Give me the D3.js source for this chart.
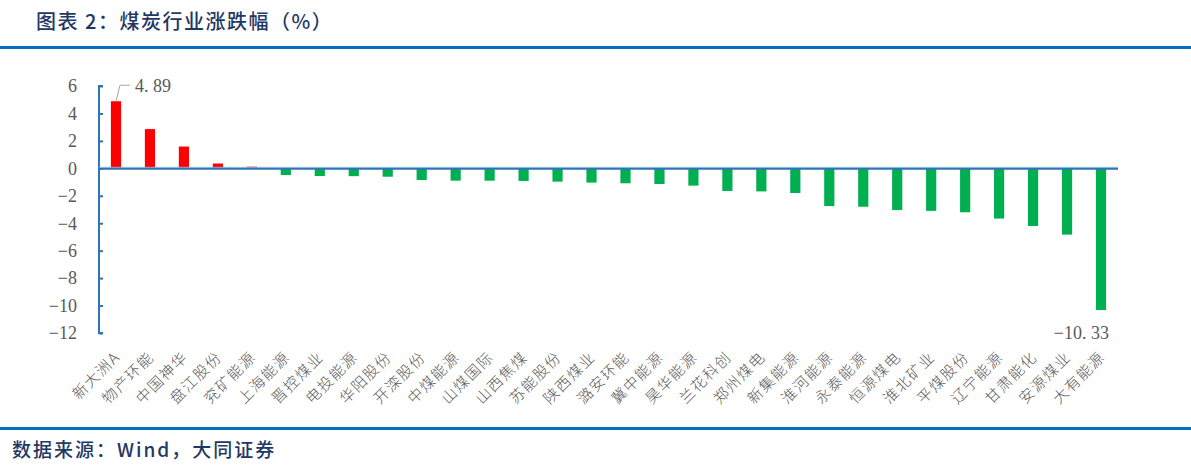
<!DOCTYPE html>
<html><head><meta charset="utf-8">
<script src="https://cdn.jsdelivr.net/npm/d3@7"></script>
<style>body{margin:0;background:#fff}svg{display:block}</style>
</head><body>
<script>
const categories = ["新大洲A","物产环能","中国神华","盘江股份","兖矿能源","上海能源","晋控煤业","电投能源","华阳股份","开滦股份","中煤能源","山煤国际","山西焦煤","苏能股份","陕西煤业","潞安环能","冀中能源","昊华能源","兰花科创","郑州煤电","新集能源","淮河能源","永泰能源","恒源煤电","淮北矿业","平煤股份","辽宁能源","甘肃能化","安源煤业","大有能源"];
const values = [4.89,2.86,1.59,0.35,0.12,-0.49,-0.56,-0.57,-0.61,-0.85,-0.90,-0.90,-0.92,-0.97,-1.04,-1.09,-1.14,-1.26,-1.65,-1.68,-1.80,-2.75,-2.80,-3.04,-3.10,-3.20,-3.66,-4.20,-4.83,-10.33];
const yTicks = [6,4,2,0,-2,-4,-6,-8,-10,-12];
const titleText = "图表 2：煤炭行业涨跌幅（%）";
const sourceText = "数据来源：Wind，大同证券";

const W = 1191, H = 470;
const svg = d3.select("body").append("svg").attr("width", W).attr("height", H);

// header / footer
svg.append("text").attr("x", 36).attr("y", 29).text(titleText)
  .attr("font-family", "'Noto Sans CJK SC'").attr("font-size", 20).attr("font-weight", 500)
  .attr("letter-spacing", 1.5).attr("fill", "#1F3864");
svg.append("rect").attr("x", 0).attr("y", 46).attr("width", W).attr("height", 3).attr("fill", "#0070C0");
svg.append("rect").attr("x", 0).attr("y", 427).attr("width", W).attr("height", 3).attr("fill", "#0070C0");
svg.append("text").attr("x", 12).attr("y", 457).text(sourceText)
  .attr("font-family", "'Noto Sans CJK SC'").attr("font-size", 19).attr("font-weight", 500)
  .attr("letter-spacing", 2).attr("fill", "#1F3864");

const x = d3.scaleBand().domain(categories).range([99, 1118]).paddingInner(0.7).paddingOuter(0.35);
const y = d3.scaleLinear().domain([-12, 6]).range([333, 86]);

// bars
svg.append("g").selectAll("rect").data(values).join("rect")
  .attr("x", (d, i) => x(categories[i]))
  .attr("width", x.bandwidth())
  .attr("y", d => y(Math.max(0, d)))
  .attr("height", d => Math.abs(y(d) - y(0)))
  .attr("fill", d => d >= 0 ? "#FF0000" : "#00B050");

// y axis
const yAxis = d3.axisRight(y).tickValues(yTicks).tickSize(4).tickFormat("");
const ya = svg.append("g").attr("transform", "translate(99,0)").call(yAxis);
ya.selectAll("path,line").attr("stroke", "#2E75B6").attr("stroke-width", 2);
ya.select(".domain").attr("d", `M4,${y(6)}H0V${y(-12)}H4`);
svg.append("g").selectAll("text").data(yTicks).join("text")
  .attr("x", 77).attr("y", d => y(d)).attr("dy", "0.35em").attr("text-anchor", "end")
  .attr("font-family", "'Liberation Serif'").attr("font-size", 18).attr("fill", "#595959")
  .text(d => d < 0 ? "\u2212" + Math.abs(d) : d);

// zero line
svg.append("line").attr("x1", 99).attr("x2", 1118).attr("y1", y(0) - 1).attr("y2", y(0) - 1)
  .attr("stroke", "#9DC3E6").attr("stroke-width", 1);
svg.append("line").attr("x1", 99).attr("x2", 1118).attr("y1", y(0) + 0.5).attr("y2", y(0) + 0.5)
  .attr("stroke", "#2E75B6").attr("stroke-width", 2);

// category labels
svg.append("g").selectAll("text").data(categories).join("text")
  .attr("transform", d => `translate(${x(d) + x.bandwidth() / 2 + 5},${358}) rotate(-45)`)
  .attr("text-anchor", "end")
  .attr("font-family", "'Noto Sans CJK SC'").attr("font-size", 15).attr("font-weight", 300).attr("fill", "#595959")
  .attr("letter-spacing", 1.5)
  .text(d => d);

// data labels
const i0 = 0, iL = values.length - 1;
const bx0 = x(categories[i0]) + x.bandwidth() / 2;
svg.append("path").attr("d", `M${bx0},${y(values[i0])}L${bx0 + 4},${y(values[i0]) - 16}H${bx0 + 14}`)
  .attr("fill", "none").attr("stroke", "#A6A6A6").attr("stroke-width", 1);
svg.append("text").attr("x", bx0 + 19).attr("y", y(values[i0]) - 16).attr("dy", "0.35em")
  .attr("font-family", "'Liberation Serif'").attr("font-size", 18).attr("fill", "#595959")
  .text(values[i0].toFixed(2).replace(".", ". "));
const bxL = x(categories[iL]) + x.bandwidth() / 2;
svg.append("text").attr("x", bxL + 8).attr("y", 333).attr("dy", "0.35em").attr("text-anchor", "end")
  .attr("font-family", "'Liberation Serif'").attr("font-size", 18).attr("fill", "#595959")
  .text("\u2212" + Math.abs(values[iL]).toFixed(2).replace(".", ". "));
</script>
</body></html>
